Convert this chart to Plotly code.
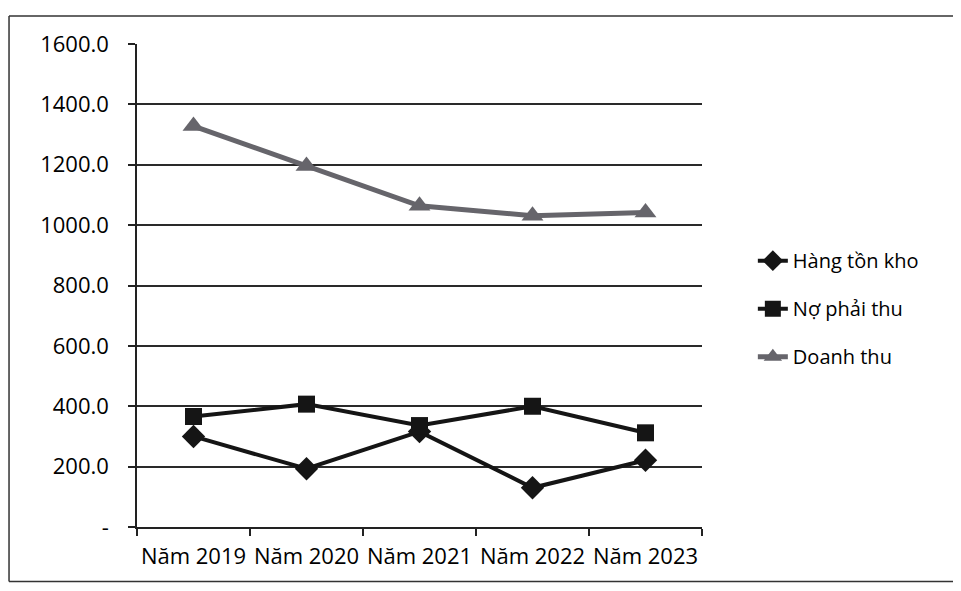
import plotly.graph_objects as go

categories = ["Năm 2019", "Năm 2020", "Năm 2021", "Năm 2022", "Năm 2023"]
hang_ton_kho = [300, 193, 316, 130, 221]
no_phai_thu = [366, 407, 336, 400, 312]
doanh_thu = [1328, 1196, 1064, 1031, 1042]

y_tickvals = [0, 200, 400, 600, 800, 1000, 1200, 1400, 1600]
y_ticktext = ["-", "200.0", "400.0", "600.0", "800.0", "1000.0", "1200.0", "1400.0", "1600.0"]

FONT = "Open Sans"
BLACK = "#151515"
GRAY = "#66656b"

fig = go.Figure()
fig.add_trace(go.Scatter(
    x=categories, y=hang_ton_kho, name="Hàng tồn kho", mode="lines+markers",
    line=dict(color=BLACK, width=4), legendgroup="a",
    marker=dict(symbol="diamond", size=18, color=BLACK)))
fig.add_trace(go.Scatter(
    x=categories, y=no_phai_thu, name="Nợ phải thu", mode="lines+markers",
    line=dict(color=BLACK, width=4), legendgroup="b",
    marker=dict(symbol="square", size=17, color=BLACK)))
fig.add_trace(go.Scatter(
    x=categories, y=doanh_thu, name="Doanh thu", mode="lines+markers",
    line=dict(color=GRAY, width=5), legendgroup="c",
    marker=dict(symbol="triangle-up", size=19, color=GRAY)))

border = dict(color="#333", width=1.5)
X0, X1, Y0, Y1 = -0.2265, 1.6, -0.113, 1.058
fig.update_layout(
    width=945, height=575,
    margin=dict(l=129, r=251, t=36, b=56, autoexpand=False),
    paper_bgcolor="white", plot_bgcolor="white",
    font=dict(family=FONT, size=20, color="#000"),
    showlegend=True,
    legend=dict(x=1.09, y=0.452, xanchor="left", yanchor="middle",
                font=dict(family=FONT, size=20, color="#000"),
                tracegroupgap=19, itemwidth=30, bgcolor="rgba(0,0,0,0)"),
    shapes=[
        dict(type="line", xref="paper", yref="paper", x0=X0, x1=X1, y0=Y1, y1=Y1, line=border),
        dict(type="line", xref="paper", yref="paper", x0=X0, x1=X1, y0=Y0, y1=Y0, line=border),
        dict(type="line", xref="paper", yref="paper", x0=X0, x1=X0, y0=Y0, y1=Y1, line=border),
    ],
)
fig.update_xaxes(
    type="category", range=[-0.5, 4.5], automargin=False, tickangle=0,
    showgrid=False, showline=True, linecolor="#222", linewidth=1.5,
    ticks="outside", tickson="boundaries", ticklen=7, tickcolor="#222", tickwidth=1.5,
    tickfont=dict(family=FONT, size=22, color="#000"),
    ticklabelstandoff=9,
)
fig.update_yaxes(
    range=[0, 1600], tickvals=y_tickvals, ticktext=y_ticktext, automargin=False,
    showgrid=True, gridcolor="#2a2a2a", gridwidth=1.5,
    showline=True, linecolor="#222", linewidth=1.5,
    ticks="outside", ticklen=7, tickcolor="#222", tickwidth=1.5,
    tickfont=dict(family=FONT, size=22, color="#000"),
    ticklabelstandoff=15, zeroline=False,
)

fig.write_html("out.html")
